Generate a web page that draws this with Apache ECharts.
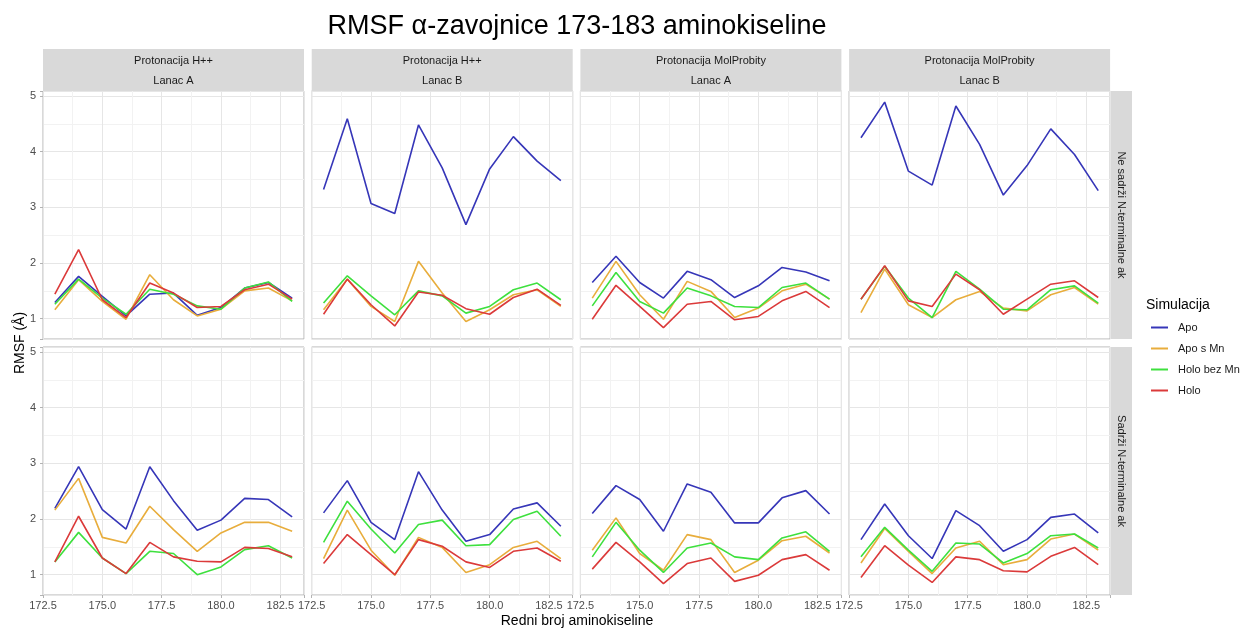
<!DOCTYPE html>
<html>
<head>
<meta charset="utf-8">
<title>RMSF α-zavojnice 173-183 aminokiseline</title>
<script src="https://cdn.jsdelivr.net/npm/echarts@6/dist/echarts.min.js"></script>
<style>
  html, body { margin: 0; padding: 0; background: #fff; }
  #chart { width: 1244px; height: 629px; }
</style>
</head>
<body>
<div id="chart"></div>
<script>
// redni broj aminokiseline
const residues = [173, 174, 175, 176, 177, 178, 179, 180, 181, 182, 183];

const simulations = ['Apo', 'Apo s Mn', 'Holo bez Mn', 'Holo'];
const colors = ['#3636b8', '#e8ad3c', '#3ee03e', '#db3a3a'];

const columnTop = ['Protonacija H++', 'Protonacija H++', 'Protonacija MolProbity', 'Protonacija MolProbity'];
const columnBottom = ['Lanac A', 'Lanac B', 'Lanac A', 'Lanac B'];
const rowNames = ['Ne sadrži N-terminalne ak', 'Sadrži N-terminalne ak'];

const xTicks = [172.5, 175.0, 177.5, 180.0, 182.5];
const yTicks = [1, 2, 3, 4, 5];

// red 1: Ne sadrži N-terminalne ak
const hppA_ne_apo     = [1.29, 1.76, 1.40, 1.05, 1.44, 1.46, 1.06, 1.20, 1.55, 1.65, 1.37];
const hppA_ne_apoMn   = [1.16, 1.70, 1.31, 0.99, 1.79, 1.34, 1.05, 1.17, 1.50, 1.55, 1.32];
const hppA_ne_holoBez = [1.26, 1.71, 1.37, 1.08, 1.53, 1.44, 1.23, 1.17, 1.55, 1.66, 1.31];
const hppA_ne_holo    = [1.44, 2.24, 1.34, 1.02, 1.64, 1.46, 1.20, 1.22, 1.52, 1.62, 1.35];

const hppB_ne_apo     = [3.32, 4.59, 3.07, 2.89, 4.48, 3.71, 2.69, 3.69, 4.27, 3.83, 3.48];
const hppB_ne_apoMn   = [1.16, 1.71, 1.22, 0.95, 2.03, 1.46, 0.95, 1.16, 1.43, 1.52, 1.22];
const hppB_ne_holoBez = [1.28, 1.77, 1.41, 1.07, 1.50, 1.41, 1.10, 1.22, 1.52, 1.64, 1.34];
const hppB_ne_holo    = [1.08, 1.71, 1.25, 0.87, 1.48, 1.42, 1.18, 1.08, 1.38, 1.53, 1.24];

const molA_ne_apo     = [1.65, 2.12, 1.65, 1.37, 1.85, 1.70, 1.38, 1.59, 1.92, 1.84, 1.68];
const molA_ne_apoMn   = [1.37, 2.03, 1.43, 0.99, 1.67, 1.49, 1.02, 1.19, 1.50, 1.62, 1.35];
const molA_ne_holoBez = [1.23, 1.83, 1.31, 1.10, 1.55, 1.41, 1.22, 1.20, 1.56, 1.64, 1.35];
const molA_ne_holo    = [0.99, 1.60, 1.22, 0.84, 1.26, 1.31, 0.98, 1.04, 1.32, 1.49, 1.20];

const molB_ne_apo     = [4.25, 4.89, 3.65, 3.40, 4.82, 4.13, 3.22, 3.75, 4.41, 3.95, 3.30];
const molB_ne_apoMn   = [1.11, 1.89, 1.25, 1.02, 1.34, 1.49, 1.19, 1.14, 1.43, 1.56, 1.26];
const molB_ne_holoBez = [1.35, 1.94, 1.37, 1.02, 1.85, 1.53, 1.17, 1.16, 1.52, 1.59, 1.28];
const molB_ne_holo    = [1.35, 1.95, 1.32, 1.22, 1.80, 1.52, 1.08, 1.35, 1.62, 1.68, 1.38];

// red 2: Sadrži N-terminalne ak
const hppA_da_apo     = [2.19, 2.94, 2.17, 1.82, 2.94, 2.33, 1.80, 1.98, 2.37, 2.35, 2.04];
const hppA_da_apoMn   = [2.16, 2.73, 1.67, 1.57, 2.23, 1.81, 1.42, 1.75, 1.94, 1.94, 1.78];
const hppA_da_holoBez = [1.23, 1.76, 1.30, 1.02, 1.42, 1.38, 1.00, 1.14, 1.45, 1.52, 1.30];
const hppA_da_holo    = [1.23, 2.05, 1.30, 1.02, 1.58, 1.32, 1.24, 1.23, 1.49, 1.47, 1.32];

const hppB_da_apo     = [2.11, 2.69, 1.94, 1.63, 2.85, 2.16, 1.60, 1.72, 2.18, 2.29, 1.87];
const hppB_da_apoMn   = [1.29, 2.16, 1.44, 0.99, 1.67, 1.49, 1.04, 1.18, 1.49, 1.60, 1.29];
const hppB_da_holoBez = [1.58, 2.32, 1.82, 1.39, 1.90, 1.98, 1.52, 1.54, 1.99, 2.14, 1.69];
const hppB_da_holo    = [1.20, 1.72, 1.36, 1.00, 1.63, 1.51, 1.23, 1.13, 1.42, 1.48, 1.24];

const molA_da_apo     = [2.10, 2.60, 2.35, 1.78, 2.63, 2.48, 1.93, 1.93, 2.38, 2.51, 2.09];
const molA_da_apoMn   = [1.44, 2.02, 1.38, 1.08, 1.72, 1.63, 1.04, 1.26, 1.61, 1.69, 1.39];
const molA_da_holoBez = [1.32, 1.94, 1.44, 1.04, 1.48, 1.57, 1.32, 1.27, 1.66, 1.77, 1.42];
const molA_da_holo    = [1.10, 1.58, 1.23, 0.84, 1.20, 1.30, 0.88, 0.99, 1.27, 1.36, 1.08];

const molB_da_apo     = [1.63, 2.27, 1.70, 1.29, 2.15, 1.88, 1.42, 1.63, 2.03, 2.09, 1.75];
const molB_da_apoMn   = [1.21, 1.83, 1.42, 1.02, 1.48, 1.60, 1.18, 1.27, 1.64, 1.73, 1.44];
const molB_da_holoBez = [1.32, 1.85, 1.44, 1.06, 1.57, 1.55, 1.21, 1.38, 1.70, 1.73, 1.48];
const molB_da_holo    = [0.95, 1.52, 1.17, 0.86, 1.32, 1.27, 1.07, 1.05, 1.33, 1.49, 1.18];

// paneli redom: red 1 (4 stupca), pa red 2
const panels = [
  [hppA_ne_apo, hppA_ne_apoMn, hppA_ne_holoBez, hppA_ne_holo],
  [hppB_ne_apo, hppB_ne_apoMn, hppB_ne_holoBez, hppB_ne_holo],
  [molA_ne_apo, molA_ne_apoMn, molA_ne_holoBez, molA_ne_holo],
  [molB_ne_apo, molB_ne_apoMn, molB_ne_holoBez, molB_ne_holo],
  [hppA_da_apo, hppA_da_apoMn, hppA_da_holoBez, hppA_da_holo],
  [hppB_da_apo, hppB_da_apoMn, hppB_da_holoBez, hppB_da_holo],
  [molA_da_apo, molA_da_apoMn, molA_da_holoBez, molA_da_holo],
  [molB_da_apo, molB_da_apoMn, molB_da_holoBez, molB_da_holo]
];

// layout
const font = 'Liberation Sans, Arial, sans-serif';
const panelLeft = 43, panelStep = 268.7, panelW = 261;
const rowTop = [91, 347], panelH = 248;
const stripTop = 49, stripH = 42;

const grids = [], xAxes = [], yAxes = [], series = [], graphics = [];

function onTick(v, list) {
  return list.some(t => Math.abs(t - v) < 1e-6);
}

panels.forEach((lines, p) => {
  const row = Math.floor(p / 4), col = p % 4;
  const left = panelLeft + col * panelStep;
  grids.push({
    left: left, top: rowTop[row], width: panelW, height: panelH,
    show: true, backgroundColor: '#ffffff', borderColor: '#b3b3b3', borderWidth: 1
  });
  xAxes.push({
    type: 'value', gridIndex: p, min: 172.5, max: 183.5, interval: 2.5,
    axisLine: { show: false },
    axisTick: { show: row === 1, length: 3, lineStyle: { color: '#b3b3b3' } },
    axisLabel: {
      show: row === 1, color: '#4d4d4d', fontSize: 11, fontFamily: font, margin: 5,
      showMinLabel: true, showMaxLabel: true,
      formatter: v => onTick(v, xTicks) ? v.toFixed(1) : ''
    },
    splitLine: { show: true, lineStyle: { color: '#e6e6e6', width: 1 } },
    minorTick: { show: false, splitNumber: 2 },
    minorSplitLine: { show: true, lineStyle: { color: '#f2f2f2', width: 1 } }
  });
  yAxes.push({
    type: 'value', gridIndex: p, min: 0.635, max: 5.09,
    axisLine: { show: false },
    axisTick: { show: col === 0, length: 3, lineStyle: { color: '#b3b3b3' } },
    axisLabel: {
      show: col === 0, color: '#4d4d4d', fontSize: 11, fontFamily: font, margin: 7,
      formatter: v => onTick(v, yTicks) ? String(v) : ''
    },
    splitLine: { show: true, lineStyle: { color: '#e6e6e6', width: 1 } },
    minorTick: { show: false, splitNumber: 2 },
    minorSplitLine: { show: true, lineStyle: { color: '#f2f2f2', width: 1 } }
  });
  lines.forEach((vals, s) => {
    series.push({
      name: simulations[s], type: 'line', xAxisIndex: p, yAxisIndex: p,
      data: residues.map((r, i) => [r, vals[i]]),
      symbol: 'none', silent: true, animation: false,
      lineStyle: { color: colors[s], width: 1.6 },
      itemStyle: { color: colors[s] },
      z: 2 + s
    });
  });

  // strip iznad stupaca
  if (row === 0) {
    graphics.push({
      type: 'rect', left: left, top: stripTop,
      shape: { width: panelW, height: stripH },
      style: { fill: '#d9d9d9' }
    });
    graphics.push({
      type: 'text', x: left + panelW / 2, y: stripTop + 12,
      style: { text: columnTop[col], fill: '#1a1a1a', font: '11px ' + font, textAlign: 'center', textVerticalAlign: 'middle' }
    });
    graphics.push({
      type: 'text', x: left + panelW / 2, y: stripTop + 32,
      style: { text: columnBottom[col], fill: '#1a1a1a', font: '11px ' + font, textAlign: 'center', textVerticalAlign: 'middle' }
    });
  }
});

// strip desno od redova
rowNames.forEach((name, r) => {
  graphics.push({
    type: 'rect', left: 1111, top: rowTop[r],
    shape: { width: 21, height: panelH },
    style: { fill: '#d9d9d9' }
  });
  graphics.push({
    type: 'text', x: 1121.5, y: rowTop[r] + panelH / 2, rotation: -Math.PI / 2,
    style: { text: name, fill: '#1a1a1a', font: '11px ' + font, textAlign: 'center', textVerticalAlign: 'middle' }
  });
});

graphics.push({
  type: 'text', x: 577, y: 27,
  style: { text: 'RMSF α-zavojnice 173-183 aminokiseline', fill: '#000', font: '27px ' + font, textAlign: 'center', textVerticalAlign: 'middle' }
});
graphics.push({
  type: 'text', x: 577, y: 621,
  style: { text: 'Redni broj aminokiseline', fill: '#000', font: '14px ' + font, textAlign: 'center', textVerticalAlign: 'middle' }
});
graphics.push({
  type: 'text', x: 20, y: 343, rotation: Math.PI / 2,
  style: { text: 'RMSF (Å)', fill: '#000', font: '14px ' + font, textAlign: 'center', textVerticalAlign: 'middle' }
});
graphics.push({
  type: 'text', x: 1146, y: 305,
  style: { text: 'Simulacija', fill: '#000', font: '14px ' + font, textAlign: 'left', textVerticalAlign: 'middle' }
});

const chart = echarts.init(document.getElementById('chart'), null, { renderer: 'canvas' });
chart.setOption({
  backgroundColor: '#ffffff',
  animation: false,
  grid: grids,
  xAxis: xAxes,
  yAxis: yAxes,
  legend: {
    data: simulations, orient: 'vertical', left: 1146, top: 317,
    icon: 'rect', itemWidth: 17, itemHeight: 2, itemGap: 10,
    selectedMode: false,
    textStyle: { color: '#1a1a1a', fontSize: 11, fontFamily: font, padding: [0, 0, 0, 5] }
  },
  series: series,
  graphic: graphics
});
</script>
</body>
</html>
